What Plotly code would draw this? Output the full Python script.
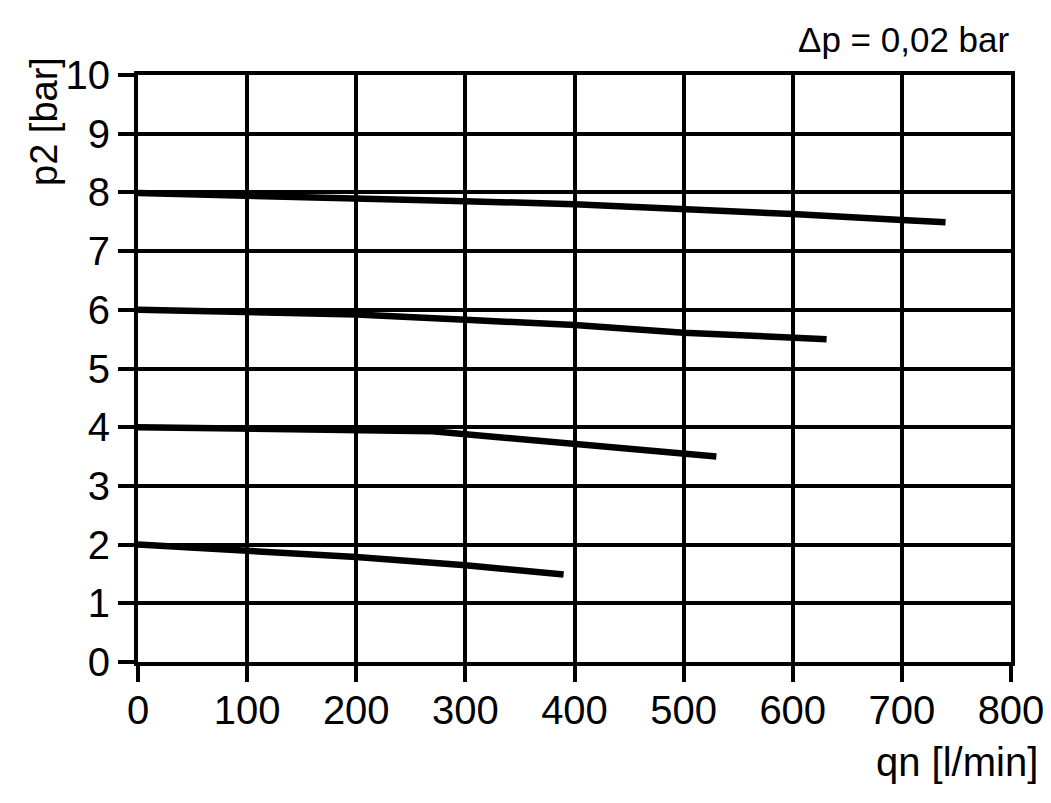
import plotly.graph_objects as go

# flow qn [l/min] vs outlet pressure p2 [bar], one curve per set pressure
q_8 = [0, 100, 200, 300, 400, 500, 600, 700, 740]
p_8 = [7.99, 7.95, 7.91, 7.85, 7.80, 7.72, 7.63, 7.53, 7.49]

q_6 = [0, 100, 200, 300, 400, 500, 600, 631]
p_6 = [6.0, 5.95, 5.92, 5.83, 5.74, 5.61, 5.53, 5.5]

q_4 = [0, 100, 200, 270, 300, 400, 500, 530]
p_4 = [4.0, 3.98, 3.95, 3.93, 3.88, 3.72, 3.55, 3.5]

q_2 = [0, 100, 200, 300, 390]
p_2 = [2.0, 1.90, 1.79, 1.65, 1.49]

x_ticks = [0, 100, 200, 300, 400, 500, 600, 700, 800]
y_ticks = [0, 1, 2, 3, 4, 5, 6, 7, 8, 9, 10]

FONT = "Liberation Sans, Arial, sans-serif"

fig = go.Figure()
for q, p in [(q_8, p_8), (q_6, p_6), (q_4, p_4), (q_2, p_2)]:
    fig.add_trace(go.Scatter(x=q, y=p, mode='lines',
                             line=dict(color='black', width=6.5),
                             hoverinfo='x+y'))

axis_style = dict(
    showgrid=True, gridcolor='black', gridwidth=4,
    showline=True, linecolor='black', linewidth=4, mirror=True,
    ticks='outside', ticklen=16, tickwidth=4, tickcolor='black',
    zeroline=False, automargin=False,
    tickfont=dict(family=FONT, size=40, color='black'),
)

# page body has an 8px margin, so the figure is 8px smaller than the window
fig.update_layout(
    width=1043, height=795,
    margin=dict(l=130, r=40, t=67, b=141),
    paper_bgcolor='white', plot_bgcolor='white',
    showlegend=False,
    xaxis=dict(range=[0, 800], tickvals=x_ticks, ticklabelstandoff=-6, **axis_style),
    yaxis=dict(range=[0, 10], tickvals=y_ticks, **axis_style),
    annotations=[
        dict(text='Δp = 0,02 bar', xref='paper', yref='paper', x=1.0, y=1.0,
             xanchor='right', yanchor='middle', xshift=1, yshift=36, showarrow=False,
             font=dict(family=FONT, size=35, color='black')),
        dict(text='qn [l/min]', xref='paper', yref='paper', x=1.0, y=0,
             xanchor='right', yanchor='middle', xshift=29, yshift=-100, showarrow=False,
             font=dict(family=FONT, size=40, color='black')),
        dict(text='p2 [bar]', xref='paper', yref='paper', x=0, y=1.0,
             xanchor='center', yanchor='middle', textangle=-90, xshift=-94, yshift=-47,
             showarrow=False,
             font=dict(family=FONT, size=38, color='black')),
    ],
)

fig.write_html("out.html")
